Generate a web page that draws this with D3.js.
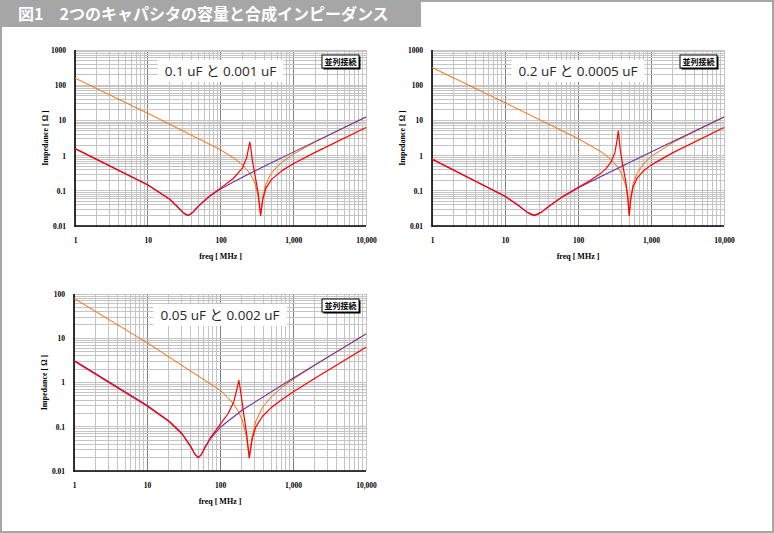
<!DOCTYPE html>
<html>
<head>
<meta charset="utf-8">
<script src="https://cdn.jsdelivr.net/npm/d3@7"></script>
<style>
  body { margin: 0; background: #fff; }
  svg { display: block; }
</style>
</head>
<body>
<div id="graph"></div>
<script>
// valeurs : [freq MHz, impedance ohm]
var titre = "図1　2つのキャパシタの容量と合成インピーダンス";
var libelles = ["0.1 uF と 0.001 uF", "0.2 uF と 0.0005 uF", "0.05 uF と 0.002 uF"];
var legende = "並列接続";
var xTicks = [1, 10, 100, 1000, 10000];
var yTicks1 = [0.01, 0.1, 1, 10, 100, 1000];
var yTicks3 = [0.01, 0.1, 1, 10, 100];

// graphe 1 : 0.1 uF (violet), 0.001 uF (orange), parallele (rouge)
var violet1 = [[1,1.59],[10,0.148],[20,0.058],[25,0.0379],[30,0.0252],[33,0.0211],[35.6,0.020],[38,0.0208],[42,0.0249],[50,0.0369],[70,0.0682],[100,0.112],[150,0.178],[200,0.243],[500,0.625],[1000,1.255],[10000,12.57]];
var orange1 = [[1,159.1],[10,15.9],[100,1.466],[150,0.873],[200,0.545],[230,0.403],[250,0.323],[275,0.234],[300,0.155],[330,0.0705],[356,0.020],[380,0.062],[420,0.150],[450,0.213],[500,0.311],[600,0.489],[700,0.652],[1000,1.098],[2000,2.434],[10000,12.55]];
var rouge1 = [[1,1.575],[10,0.146],[20,0.0576],[30,0.0251],[35.6,0.0200],[42,0.0250],[50,0.0373],[70,0.0703],[100,0.119],[150,0.2235],[200,0.438],[230,0.897],[245,1.82],[253,2.43],[260,1.725],[275,0.699],[300,0.259],[330,0.084],[356,0.0199],[380,0.0551],[420,0.117],[500,0.2073],[700,0.374],[1000,0.5855],[2000,1.236],[10000,6.279]];

// graphe 2 : 0.2 uF, 0.0005 uF
var violet2 = [[1,0.795],[10,0.0699],[15,0.0396],[20,0.0248],[23,0.0208],[25.2,0.0200],[28,0.0211],[32,0.0252],[40,0.0364],[60,0.0653],[100,0.1194],[200,0.2473],[1000,1.2558],[10000,12.57]];
var orange2 = [[1,318.3],[10,31.82],[100,3.057],[200,1.340],[250,0.959],[300,0.684],[350,0.470],[400,0.2938],[450,0.1433],[480,0.0632],[503,0.020],[530,0.0684],[570,0.1591],[650,0.3277],[800,0.6074],[1000,0.9383],[2000,2.354],[10000,12.53]];
var rouge2 = [[1,0.7925],[10,0.0698],[15,0.0396],[20,0.0248],[25.2,0.0200],[32,0.0252],[40,0.0365],[60,0.0661],[100,0.1242],[150,0.2024],[200,0.3033],[240,0.4207],[280,0.6268],[320,1.204],[345,3.003],[356,4.978],[365,3.218],[380,1.407],[410,0.5267],[450,0.1907],[480,0.0700],[503,0.0200],[530,0.0622],[570,0.1293],[650,0.2335],[800,0.3785],[1000,0.537],[2000,1.2155],[10000,6.275]];

// graphe 3 : 0.05 uF, 0.002 uF
var violet3 = [[1,3.182],[10,0.3064],[20,0.1355],[30,0.0713],[40,0.0355],[45,0.0245],[50.3,0.020],[55,0.0229],[62,0.0333],[75,0.0555],[100,0.0959],[200,0.2354],[1000,1.2534],[10000,12.57]];
var orange3 = [[1,79.58],[10,7.945],[100,0.670],[125,0.480],[150,0.3426],[175,0.2357],[200,0.1479],[230,0.0604],[252,0.020],[275,0.0597],[310,0.1344],[380,0.2688],[500,0.4692],[700,0.766],[1000,1.177],[2000,2.4735],[10000,12.56]];
var rouge3 = [[1,3.06],[10,0.2944],[20,0.1311],[30,0.0694],[40,0.0350],[45,0.0243],[50.3,0.0200],[55,0.0231],[62,0.0340],[75,0.0586],[100,0.1113],[130,0.2017],[155,0.3732],[170,0.697],[181,1.121],[190,0.697],[210,0.2088],[230,0.0751],[252,0.0198],[275,0.0509],[310,0.0993],[380,0.1706],[500,0.2674],[700,0.4085],[1000,0.607],[2000,1.246],[10000,6.281]];

var couleur_violet = "#7030a0",
    couleur_orange = "#ff6a00",
    couleur_rouge = "#ff0000",
    police_serif = "'Liberation Serif', 'DejaVu Serif', serif",
    police_jp = "'Noto Sans CJK JP', 'Noto Sans', sans-serif",
    police_lib = "'Open Sans', 'Noto Sans CJK JP', sans-serif";

var svg = d3.select("#graph")
    .append("svg")
        .attr("width", 774)
        .attr("height", 533);

svg.append("rect")
    .attr("x", 1).attr("y", 1)
    .attr("width", 772).attr("height", 531)
    .attr("fill", "#fff")
    .attr("stroke", "#a6a6a6")
    .attr("stroke-width", 2);

svg.append("rect")
    .attr("x", 0).attr("y", 0)
    .attr("width", 421).attr("height", 27)
    .attr("fill", "#a6a6a6");
svg.append("text")
    .attr("x", 18).attr("y", 20)
    .style("font-family", police_jp)
    .style("font-size", "16px")
    .style("font-weight", "bold")
    .style("fill", "#fff")
    .text(titre);

function estDecade(d) {
    var l = Math.log10(d);
    return Math.abs(l - Math.round(l)) < 1e-9;
}

function dessinGraphe(c) {
    var x = d3.scaleLog().domain([1, 10000]).range([c.left, c.right]),
        y = d3.scaleLog().domain([0.01, c.ymax]).range([c.bottom, c.top]),
        g = svg.append("g");

    // grille
    g.selectAll(".gx")
        .data(x.ticks())
        .enter()
        .append("line")
        .attr("x1", function (d) { return x(d); })
        .attr("x2", function (d) { return x(d); })
        .attr("y1", c.top)
        .attr("y2", c.bottom)
        .attr("shape-rendering", "crispEdges")
        .style("stroke", function (d) { return estDecade(d) && d > 1 && d < 10000 ? "#808080" : "#c4c4c4"; })
        .style("stroke-width", 1);
    g.selectAll(".gy")
        .data(y.ticks())
        .enter()
        .append("line")
        .attr("x1", c.left)
        .attr("x2", c.right)
        .attr("y1", function (d) { return y(d); })
        .attr("y2", function (d) { return y(d); })
        .attr("shape-rendering", "crispEdges")
        .style("stroke", "#c4c4c4")
        .style("stroke-width", 1);

    // axes
    var ax = g.append("g")
        .attr("transform", "translate(0," + c.bottom + ")")
        .call(d3.axisBottom(x).tickValues(xTicks).tickFormat(d3.format(",")).tickSize(0).tickPadding(12));
    var ay = g.append("g")
        .attr("transform", "translate(" + c.left + ",0)")
        .call(d3.axisLeft(y).tickValues(c.yTicks).tickFormat(function (d) { return String(d); }).tickSize(0).tickPadding(9));
    [ax, ay].forEach(function (a) {
        a.select(".domain").remove();
        a.selectAll("text")
            .style("font-family", police_serif)
            .style("font-size", "7.5px")
            .style("font-weight", "bold")
            .style("fill", "#000");
    });
    g.append("line")
        .attr("x1", c.left).attr("x2", c.left)
        .attr("y1", c.top).attr("y2", c.bottom + 1)
        .style("stroke", "#000").style("stroke-width", 1.6);
    g.append("line")
        .attr("x1", c.left).attr("x2", c.right)
        .attr("y1", c.bottom).attr("y2", c.bottom)
        .style("stroke", "#000").style("stroke-width", 1.6);

    g.append("text")
        .attr("x", (c.left + c.right) / 2)
        .attr("y", c.bottom + 33)
        .style("text-anchor", "middle")
        .style("font-family", police_serif)
        .style("font-size", "8px")
        .style("font-weight", "bold")
        .text("freq [ MHz ]");
    g.append("text")
        .attr("transform", "translate(" + (c.left - 27) + "," + ((c.top + c.bottom) / 2) + ") rotate(-90)")
        .style("text-anchor", "middle")
        .style("font-family", police_serif)
        .style("font-size", "8px")
        .style("font-weight", "bold")
        .text("Impedance [ Ω ]");

    // libelle des capacites
    var lib = g.append("text")
        .attr("x", (c.left + c.right) / 2)
        .attr("y", c.top + 21)
        .attr("dy", "0.35em")
        .style("text-anchor", "middle")
        .style("font-family", police_lib)
        .style("font-size", "13.5px")
        .style("fill", "#262626")
        .text(c.libelle);
    var bb = lib.node().getBBox();
    g.insert("rect", function () { return lib.node(); })
        .attr("x", bb.x - 7).attr("y", c.top + 10)
        .attr("width", bb.width + 14).attr("height", 22)
        .attr("fill", "#fff");

    // legende
    var lx = c.right - 44, ly = c.top + 5;
    g.append("rect")
        .attr("x", lx + 1.5).attr("y", ly + 1.5)
        .attr("width", 37).attr("height", 13)
        .attr("fill", "#000");
    g.append("rect")
        .attr("x", lx).attr("y", ly)
        .attr("width", 37).attr("height", 13)
        .attr("fill", "#fff")
        .attr("stroke", "#000")
        .attr("stroke-width", 1);
    g.append("text")
        .attr("x", lx + 18.5).attr("y", ly + 10)
        .style("text-anchor", "middle")
        .style("font-family", police_jp)
        .style("font-size", "8px")
        .style("font-weight", "bold")
        .text(legende);

    // courbes
    var ligne = d3.line()
        .x(function (d) { return x(d[0]); })
        .y(function (d) { return y(d[1]); });
    [[c.orange, couleur_orange, 1], [c.violet, couleur_violet, 1.1], [c.rouge, couleur_rouge, 1.2]].forEach(function (s) {
        g.append("path")
            .datum(s[0])
            .attr("fill", "none")
            .attr("stroke", s[1])
            .attr("stroke-width", s[2])
            .attr("stroke-linejoin", "round")
            .attr("d", ligne);
    });
}

dessinGraphe({left: 75, right: 366, top: 50, bottom: 226, ymax: 1000, yTicks: yTicks1,
    libelle: libelles[0], violet: violet1, orange: orange1, rouge: rouge1});
dessinGraphe({left: 432, right: 724, top: 50, bottom: 226, ymax: 1000, yTicks: yTicks1,
    libelle: libelles[1], violet: violet2, orange: orange2, rouge: rouge2});
dessinGraphe({left: 74, right: 366, top: 294, bottom: 471, ymax: 100, yTicks: yTicks3,
    libelle: libelles[2], violet: violet3, orange: orange3, rouge: rouge3});
</script>
</body>
</html>
